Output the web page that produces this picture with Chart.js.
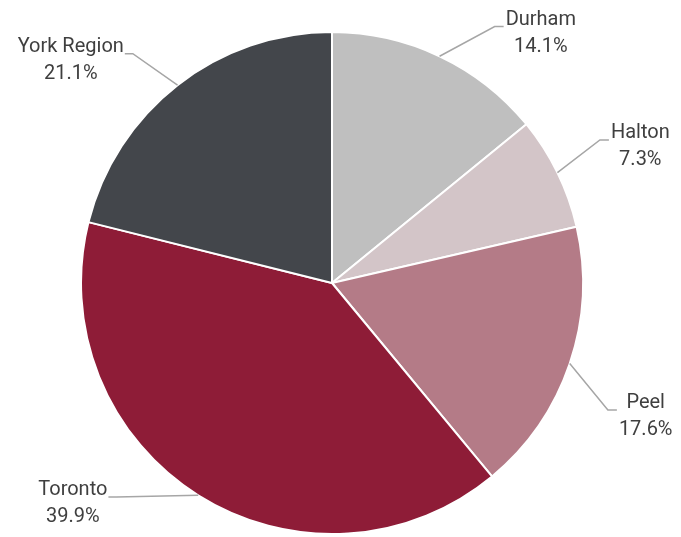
<!DOCTYPE html>
<html>
<head>
<meta charset="utf-8">
<script src="https://cdn.jsdelivr.net/npm/chart.js@4.4.0/dist/chart.umd.min.js"></script>
<style>
  html, body { margin: 0; padding: 0; background: #fff; }
  #wrap { width: 681px; height: 537px; }
</style>
</head>
<body>
<div id="wrap"><canvas id="grafico" width="681" height="537"></canvas></div>
<script>
const regiones = ['Durham', 'Halton', 'Peel', 'Toronto', 'York Region'];
const porcentajes = [14.1, 7.3, 17.6, 39.9, 21.1];
const colores = ['#bfbfbf', '#d3c5c8', '#b47b87', '#8e1c37', '#43464b'];
// nudge of each leader line elbow (degrees), so labels do not collide
const ajusteAngulo = [7, -2, 6, 13, -3];

const etiquetasPlugin = {
  id: 'etiquetas',
  afterDatasetsDraw(chart) {
    const ctx = chart.ctx;
    const meta = chart.getDatasetMeta(0);
    ctx.save();
    ctx.font = '20px Roboto';
    ctx.textBaseline = 'middle';
    meta.data.forEach((arc, i) => {
      const { x, y, startAngle, endAngle, outerRadius } = arc.getProps(['x', 'y', 'startAngle', 'endAngle', 'outerRadius'], true);
      const mid = (startAngle + endAngle) / 2;
      const codo = mid + ajusteAngulo[i] * Math.PI / 180;
      const x0 = x + Math.cos(mid) * outerRadius;
      const y0 = y + Math.sin(mid) * outerRadius;
      const x1 = x + Math.cos(codo) * outerRadius * 1.21;
      const y1 = y + Math.sin(codo) * outerRadius * 1.21;
      const derecha = Math.cos(mid) >= 0;
      const x2 = x1 + (derecha ? 9 : -8);

      ctx.strokeStyle = '#a6a6a6';
      ctx.lineWidth = 1.5;
      ctx.beginPath();
      ctx.moveTo(x0, y0);
      ctx.lineTo(x1, y1);
      ctx.lineTo(x2, y1);
      ctx.stroke();

      const nombre = regiones[i];
      const pct = porcentajes[i].toFixed(1) + '%';
      const ancho = Math.max(ctx.measureText(nombre).width, ctx.measureText(pct).width);
      const cx = derecha ? x2 + 2 + ancho / 2 : x2 - 1 - ancho / 2;
      ctx.fillStyle = '#3f3f3f';
      ctx.textAlign = 'center';
      ctx.fillText(nombre, cx, y1 - 7);
      ctx.fillText(pct, cx, y1 + 20);
    });
    ctx.restore();
  }
};

new Chart(document.getElementById('grafico').getContext('2d'), {
  type: 'pie',
  data: {
    labels: regiones,
    datasets: [{
      data: porcentajes,
      backgroundColor: colores,
      borderColor: '#ffffff',
      borderWidth: 2
    }]
  },
  options: {
    responsive: false,
    animation: false,
    layout: { padding: { left: 80, right: 97, top: 31, bottom: 2 } },
    plugins: {
      legend: { display: false },
      tooltip: { enabled: false }
    }
  },
  plugins: [etiquetasPlugin]
});
</script>
</body>
</html>
